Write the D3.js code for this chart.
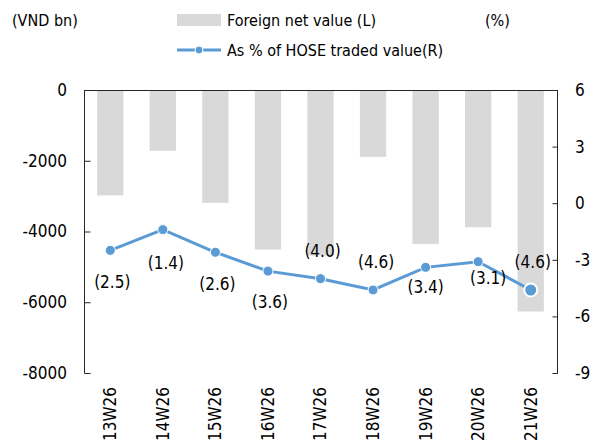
<!DOCTYPE html>
<html lang="en">
<head>
    <meta charset="UTF-8">
    <title>Foreign net value</title>
    <script src="https://cdn.jsdelivr.net/npm/d3@7"></script>
    <style>
        body { margin: 0; background: #fff; }
        svg text { font-family: "DejaVu Sans Condensed", "DejaVu Sans", sans-serif; fill: #000; }
    </style>
</head>
<body>
<div id="figure" style="width: 608px;height: 445px"></div>
<script>

    // data
    const weeks = ['13W26', '14W26', '15W26', '16W26', '17W26', '18W26', '19W26', '20W26', '21W26'];
    const netValue = [-2980, -1720, -3190, -4510, -4680, -1890, -4350, -3880, -6260];   // VND bn (L)
    const pctTraded = [-2.5, -1.4, -2.6, -3.6, -4.0, -4.6, -3.4, -3.1, -4.6];           // % (R)
    const leftTicks = [0, -2000, -4000, -6000, -8000];
    const rightTicks = [6, 3, 0, -3, -6, -9];

    // where each data label sits relative to its point (Excel labels were dragged by hand)
    const labelDx = [2, 3, 2, 2, 2, 3, 0, 10, 2];
    const labelDy = [32, 33, 32, 31, -28, -28, 20, 16, -28];

    const w = 608, h = 445;
    const plotL = 84, plotR = 557, plotT = 90, plotB = 373;
    const barColor = '#d9d9d9';
    const lineColor = '#5b9bd5';
    const axisColor = '#262626';
    const numSize = '17px';

    let svg = d3.select('#figure').append('svg')
        .attr('width', w)
        .attr('height', h);

    let x = d3.scaleBand()
        .domain(weeks)
        .range([plotL, plotR])
        .paddingInner(0.5)
        .paddingOuter(0.25);

    let yL = d3.scaleLinear()
        .domain([0, -8000])
        .range([plotT, plotB]);

    let yR = d3.scaleLinear()
        .domain([6, -9])
        .range([plotT, plotB]);

    // bars hang down from zero
    svg.append('g')
        .selectAll('rect')
        .data(netValue)
        .enter()
        .append('rect')
        .attr('x', (d, i) => x(weeks[i]))
        .attr('y', yL(0))
        .attr('width', x.bandwidth())
        .attr('height', d => yL(d) - yL(0))
        .style('fill', barColor);

    // axes, ticks point inward
    let axL = svg.append('g')
        .attr('transform', `translate(${plotL + 0.5},0)`)
        .call(d3.axisRight(yL).tickValues(leftTicks).tickSize(6).tickFormat(''));
    axL.select('.domain').remove();
    axL.append('line').attr('x1', 0).attr('x2', 0).attr('y1', plotT).attr('y2', plotB + 0.5);

    let axR = svg.append('g')
        .attr('transform', `translate(${plotR + 0.5},0)`)
        .call(d3.axisLeft(yR).tickValues(rightTicks).tickSize(5).tickFormat(''));
    axR.select('.domain').remove();
    axR.append('line').attr('x1', 0).attr('x2', 0).attr('y1', plotT).attr('y2', plotB + 0.5);

    svg.selectAll('.tick line, g > line').style('stroke', axisColor).style('stroke-width', 1);

    // category axis along zero
    svg.append('line')
        .attr('x1', plotL).attr('x2', plotR + 0.5)
        .attr('y1', yL(0) + 0.5).attr('y2', yL(0) + 0.5)
        .style('stroke', axisColor);

    // tick labels
    svg.append('g')
        .selectAll('text')
        .data(leftTicks)
        .enter()
        .append('text')
        .attr('x', 67)
        .attr('y', d => yL(d))
        .attr('dy', '0.35em')
        .attr('text-anchor', 'end')
        .style('font-size', numSize)
        .text(d => d);

    svg.append('g')
        .selectAll('text')
        .data(rightTicks)
        .enter()
        .append('text')
        .attr('x', 575)
        .attr('y', d => yR(d))
        .attr('dy', '0.35em')
        .style('font-size', numSize)
        .text(d => d);

    svg.append('g')
        .selectAll('text')
        .data(weeks)
        .enter()
        .append('text')
        .attr('transform', d => `translate(${x(d) + x.bandwidth() / 2},387) rotate(-90)`)
        .attr('dy', '0.35em')
        .attr('text-anchor', 'end')
        .style('font-size', numSize)
        .text(d => d);

    // line series on right axis
    let cx = (d, i) => x(weeks[i]) + x.bandwidth() / 2;
    let line = d3.line()
        .x(cx)
        .y(d => yR(d));

    svg.append('path')
        .datum(pctTraded)
        .attr('d', line)
        .style('fill', 'none')
        .style('stroke', lineColor)
        .style('stroke-width', 3);

    svg.append('g')
        .selectAll('circle')
        .data(pctTraded)
        .enter()
        .append('circle')
        .attr('cx', cx)
        .attr('cy', d => yR(d))
        .attr('r', (d, i) => i === pctTraded.length - 1 ? 6.5 : 5)
        .style('fill', lineColor)
        .style('stroke', '#fff')
        .style('stroke-width', (d, i) => i === pctTraded.length - 1 ? 2 : 1);

    let fmt = d => d < 0 ? `(${d3.format('.1f')(-d)})` : d3.format('.1f')(d);
    svg.append('g')
        .selectAll('text')
        .data(pctTraded)
        .enter()
        .append('text')
        .attr('x', (d, i) => cx(d, i) + labelDx[i])
        .attr('y', (d, i) => yR(d) + labelDy[i])
        .attr('dy', '0.35em')
        .attr('text-anchor', 'middle')
        .style('font-size', numSize)
        .text(fmt);

    // titles and legend
    svg.append('text').attr('x', 12).attr('y', 26).style('font-size', '16px').text('(VND bn)');
    svg.append('text').attr('x', 485).attr('y', 26).style('font-size', '16px').text('(%)');

    let legend = svg.append('g');
    legend.append('rect')
        .attr('x', 177).attr('y', 14).attr('width', 44).attr('height', 12)
        .style('fill', barColor);
    legend.append('text').attr('x', 227).attr('y', 26).style('font-size', '16px').text('Foreign net value (L)');
    legend.append('line')
        .attr('x1', 177).attr('x2', 221).attr('y1', 50).attr('y2', 50)
        .style('stroke', lineColor).style('stroke-width', 3);
    legend.append('circle')
        .attr('cx', 199).attr('cy', 50).attr('r', 4)
        .style('fill', lineColor).style('stroke', '#fff').style('stroke-width', 1);
    legend.append('text').attr('x', 227).attr('y', 56).style('font-size', '16px').text('As % of HOSE traded value(R)');

</script>
</body>
</html>
